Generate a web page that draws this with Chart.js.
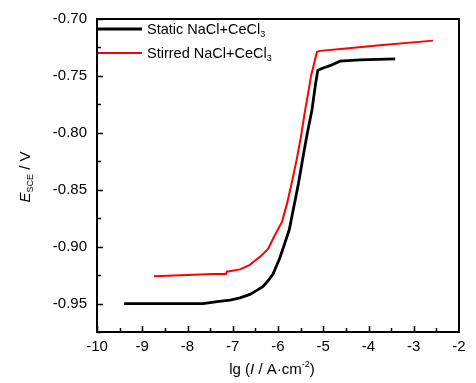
<!DOCTYPE html>
<html>
<head>
<meta charset="utf-8">
<script src="https://cdn.jsdelivr.net/npm/chart.js@4"></script>
<style>
  body { margin: 0; background: #fff; }
  #wrap { width: 476px; height: 383px; position: relative; }
</style>
</head>
<body>
<div id="wrap"><canvas id="tafel"></canvas></div>
<script>
// values (lg I, E)
const staticX = [-9.40, -8.5, -7.66, -7.3, -7.06, -6.84, -6.62, -6.45, -6.33, -6.20, -6.11, -5.96, -5.85, -5.75, -5.65, -5.55, -5.45, -5.36, -5.25, -5.17, -5.12, -5.00, -4.85, -4.63, -4.19, -3.41];
const staticY = [-0.950, -0.950, -0.950, -0.948, -0.947, -0.945, -0.942, -0.938, -0.935, -0.929, -0.924, -0.910, -0.897, -0.885, -0.865, -0.845, -0.822, -0.802, -0.780, -0.757, -0.745, -0.743, -0.741, -0.737, -0.736, -0.735];

const stirredX = [-8.74, -8.0, -7.43, -7.15, -7.13, -6.84, -6.62, -6.50, -6.40, -6.22, -6.07, -5.91, -5.80, -5.69, -5.58, -5.50, -5.40, -5.32, -5.27, -5.22, -5.14, -5.07, -4.5, -3.75, -2.57];
const stirredY = [-0.926, -0.925, -0.924, -0.924, -0.922, -0.920, -0.916, -0.912, -0.909, -0.902, -0.890, -0.878, -0.862, -0.843, -0.822, -0.805, -0.780, -0.762, -0.750, -0.742, -0.729, -0.728, -0.726, -0.723, -0.719];

const xTicks = [-10, -9, -8, -7, -6, -5, -4, -3, -2];
const yTicks = [-0.95, -0.90, -0.85, -0.80, -0.75, -0.70];

const seriesNames = ["Static NaCl+CeCl", "Stirred NaCl+CeCl"];
const seriesColors = ["#000000", "#ff0000"];

const FONT = "'Liberation Sans', Arial, sans-serif";

const toPoints = (xs, ys) => xs.map((x, i) => ({ x: x, y: ys[i] }));

// draws pieces of text one after another, some sub/superscript
const drawRich = (ctx, parts, x, y, align) => {
  let total = 0;
  parts.forEach((p) => {
    ctx.font = p.font;
    p.w = ctx.measureText(p.text).width;
    total += p.w;
  });
  let cx = align === "center" ? x - total / 2 : x;
  parts.forEach((p) => {
    ctx.font = p.font;
    ctx.fillText(p.text, cx, y + (p.dy || 0));
    cx += p.w;
  });
};

const framePlugin = {
  id: "frame",
  afterDraw(chart) {
    const ctx = chart.ctx;
    const { left, right, top, bottom } = chart.chartArea;
    const xs = chart.scales.x;
    const ys = chart.scales.y;
    ctx.save();

    // box
    ctx.strokeStyle = "#000";
    ctx.lineWidth = 2;
    ctx.strokeRect(left, top, right - left, bottom - top);

    // inward ticks, major and minor
    ctx.lineWidth = 1.5;
    ctx.beginPath();
    for (let v = -10; v <= -2.001; v += 0.5) {
      const px = Math.round(xs.getPixelForValue(v)) + 0.5;
      const len = Number.isInteger(v) ? 6 : 4;
      ctx.moveTo(px, bottom);
      ctx.lineTo(px, bottom - len);
    }
    for (let i = 0; i < 12; i++) {
      const v = -0.975 + i * 0.025;
      if (v > -0.7 + 1e-9) break;
      const py = Math.round(ys.getPixelForValue(v)) + 0.5;
      const major = Math.abs(Math.round(v / 0.05) * 0.05 - v) < 1e-6;
      ctx.moveTo(left, py);
      ctx.lineTo(left + (major ? 6 : 4), py);
    }
    ctx.stroke();

    // legend
    const legY = [29, 53];
    const legW = [3, 2];
    ctx.fillStyle = "#000";
    ctx.textBaseline = "middle";
    ctx.textAlign = "left";
    seriesNames.forEach((name, i) => {
      ctx.strokeStyle = seriesColors[i];
      ctx.lineWidth = legW[i];
      ctx.beginPath();
      ctx.moveTo(98, legY[i]);
      ctx.lineTo(142, legY[i]);
      ctx.stroke();
      drawRich(ctx, [
        { text: name, font: "14.5px " + FONT },
        { text: "3", font: "9px " + FONT, dy: 5 },
      ], 147, legY[i] + 1, "left");
    });

    // x title
    ctx.textBaseline = "middle";
    drawRich(ctx, [
      { text: "lg (", font: "15px " + FONT },
      { text: "I", font: "italic 15px " + FONT },
      { text: " / A\u00b7cm", font: "15px " + FONT },
      { text: "-2", font: "9px " + FONT, dy: -5 },
      { text: ")", font: "15px " + FONT },
    ], 272, 370, "center");

    // y title, rotated
    ctx.translate(26, 177);
    ctx.rotate(-Math.PI / 2);
    drawRich(ctx, [
      { text: "E", font: "italic 15px " + FONT },
      { text: "SCE", font: "9px " + FONT, dy: 5 },
      { text: " / V", font: "15px " + FONT },
    ], 0, 0, "center");

    ctx.restore();
  },
};

new Chart(document.getElementById("tafel"), {
  type: "line",
  data: {
    datasets: [
      {
        label: seriesNames[0],
        data: toPoints(staticX, staticY),
        borderColor: seriesColors[0],
        borderWidth: 2.8,
        pointRadius: 0,
        tension: 0,
        fill: false,
      },
      {
        label: seriesNames[1],
        data: toPoints(stirredX, stirredY),
        borderColor: seriesColors[1],
        borderWidth: 2,
        pointRadius: 0,
        tension: 0,
        fill: false,
      },
    ],
  },
  options: {
    responsive: true,
    maintainAspectRatio: false,
    animation: false,
    layout: { padding: { top: 15, right: 17, left: 0, bottom: 0 } },
    plugins: {
      legend: { display: false },
      tooltip: { enabled: false },
    },
    scales: {
      x: {
        type: "linear",
        min: -10,
        max: -2,
        grid: { display: false, drawTicks: false },
        border: { display: false },
        afterBuildTicks: (scale) => { scale.ticks = xTicks.map((v) => ({ value: v })); },
        afterFit: (scale) => { scale.height = 51; },
        ticks: {
          padding: 6,
          color: "#000",
          font: { family: FONT, size: 15 },
          callback: (v) => String(v),
        },
      },
      y: {
        type: "linear",
        min: -0.975,
        max: -0.70,
        grid: { display: false, drawTicks: false },
        border: { display: false },
        afterBuildTicks: (scale) => { scale.ticks = yTicks.map((v) => ({ value: v })); },
        afterFit: (scale) => { scale.width = 97; },
        ticks: {
          padding: 10,
          color: "#000",
          font: { family: FONT, size: 15 },
          callback: (v) => v.toFixed(2),
        },
      },
    },
  },
  plugins: [framePlugin],
});
</script>
</body>
</html>
